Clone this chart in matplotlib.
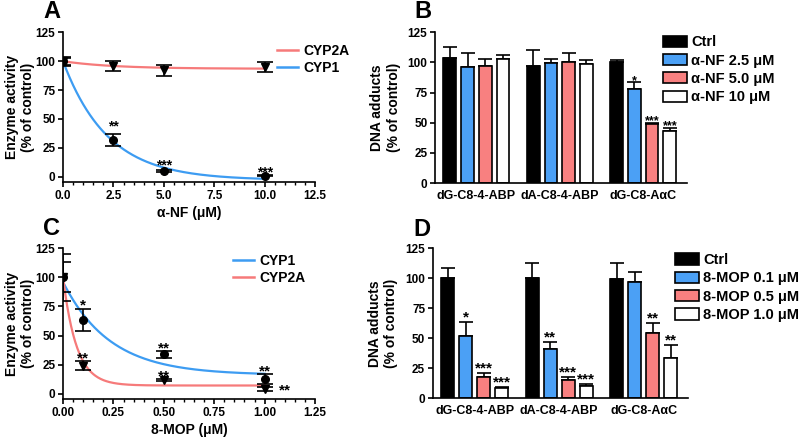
import numpy as np
import matplotlib.pyplot as plt
from matplotlib.ticker import MultipleLocator
from matplotlib.patches import Patch
from matplotlib.lines import Line2D

plt.rcParams['font.family'] = ['Liberation Sans', 'DejaVu Sans']
plt.rcParams['font.weight'] = 'bold'
plt.rcParams['axes.labelweight'] = 'bold'
plt.rcParams['axes.linewidth'] = 1.2

# colours
BLUE = '#4ba0f5'
RED = '#f88080'
LINE_BLUE = '#3d9cf2'
LINE_RED = '#f67a7a'

# ---------------- Panel A: enzyme activity vs alpha-NF ----------------
anf_conc = [0.0, 2.5, 5.0, 10.0]
a_cyp2a = [100, 96, 92, 95]
a_cyp2a_err = [4, 4.5, 5, 4.5]
a_cyp1 = [100, 32, 5, 1]
a_cyp1_err = [3, 5, 0.6, 0.6]
# one-phase decay fits (start, plateau, rate)
a_cyp2a_fit = (100, 93.5, 0.4)
a_cyp1_fit = (100, -3.0, 0.45)
a_stars = [(2.5, 40, '**'), (5.0, 6, '***'), (10.0, 0, '***')]

# ---------------- Panel C: enzyme activity vs 8-MOP ----------------
mop_conc = [0.0, 0.1, 0.5, 1.0]
c_cyp1 = [100, 63, 34, 12.5]
c_cyp1_err = [13, 9.5, 3, 4]
c_cyp2a = [100, 24, 11.5, 4]
c_cyp2a_err = [20, 4, 1, 2]
c_cyp1_fit = (96, 16, 4.3)
c_cyp2a_fit = (100, 7, 15)
c_stars = [(0.1, 72, '*'), (0.1, 27, '**'), (0.5, 35, '**'),
           (0.5, 11, '**'), (1.0, 15.5, '**'), (1.07, -0.5, '**')]

# ---------------- Panels B and D: DNA adducts ----------------
adducts = ['dG-C8-4-ABP', 'dA-C8-4-ABP', 'dG-C8-A\u03b1C']

b_labels = ['Ctrl', '\u03b1-NF 2.5 \u03bcM', '\u03b1-NF 5.0 \u03bcM', '\u03b1-NF 10 \u03bcM']
b_means = [[103.9, 96.7, 100.3],
           [95.9, 99.5, 77.6],
           [97.3, 100.3, 48.8],
           [102.5, 98.4, 43.0]]
b_errs = [[8.6, 13.6, 1.7],
          [11.6, 3.0, 6.1],
          [5.2, 7.2, 1.4],
          [3.5, 3.9, 3.0]]
b_stars = [['', '', ''], ['', '', '*'], ['', '', '***'], ['', '', '***']]

d_labels = ['Ctrl', '8-MOP 0.1 \u03bcM', '8-MOP 0.5 \u03bcM', '8-MOP 1.0 \u03bcM']
d_means = [[100.0, 100.0, 99.4],
           [52.2, 41.1, 96.7],
           [17.8, 15.0, 54.2],
           [8.3, 10.6, 33.9]]
d_errs = [[8.3, 13.0, 13.0],
          [11.7, 6.1, 8.9],
          [3.0, 2.5, 8.8],
          [1.4, 1.3, 10.5]]
d_stars = [['', '', ''], ['*', '**', ''], ['***', '***', '**'], ['***', '***', '**']]

bar_colors = ['black', BLUE, RED, 'white']


def decay(x, fit):
    y0, plateau, k = fit
    return plateau + (y0 - plateau) * np.exp(-k * x)


def style_axes(ax):
    ax.spines['top'].set_visible(False)
    ax.spines['right'].set_visible(False)
    ax.tick_params(axis='both', which='major', direction='out', length=3.5,
                   width=1.2, labelsize=8.5, pad=2)
    ax.tick_params(axis='both', which='minor', direction='out', length=2.2,
                   width=1.0)


def line_panel(ax, conc, series, fits, colors, markers, xmax, xmajor, xminor,
               stars, star_size, xlabel):
    xs = np.array(conc)
    for (mean, err), fit, col, mk in zip(series, fits, colors, markers):
        xfit = np.linspace(0, max(conc), 300)
        ax.plot(xfit, decay(xfit, fit), color=col, lw=1.6, zorder=2)
        ax.errorbar(xs, mean, yerr=err, fmt=mk, color='black', ms=5.5,
                    capsize=5.5, elinewidth=1.2, capthick=1.2, zorder=3)
    for x, y, s in stars:
        ha = 'left' if x > max(conc) else 'center'
        ax.text(x, y, s, ha=ha, va='baseline', fontsize=star_size)
    ax.set_xlim(0, xmax)
    ax.set_ylim(-4.6, 125)
    ax.xaxis.set_major_locator(MultipleLocator(xmajor))
    ax.xaxis.set_minor_locator(MultipleLocator(xminor))
    ax.yaxis.set_major_locator(MultipleLocator(25))
    ax.set_xlabel(xlabel, fontsize=10, labelpad=3)
    ax.set_ylabel('Enzyme activity\n(% of control)', fontsize=10,
                  linespacing=1.25)
    ax.yaxis.set_label_coords(-0.11, 0.5)
    style_axes(ax)


def bar_panel(ax, means, errs, stars, star_size, star_pad):
    group_step = 4.7
    for i, (m, e, s) in enumerate(zip(means, errs, stars)):
        xs = np.arange(len(adducts)) * group_step + i
        ax.bar(xs, m, width=0.72, color=bar_colors[i], edgecolor='black',
               linewidth=1.2, zorder=2)
        ax.errorbar(xs, m, yerr=[np.zeros(len(e)), e], fmt='none',
                    ecolor='black', elinewidth=1.2, capsize=5, capthick=1.2,
                    zorder=1)
        for x, top, err, txt in zip(xs, m, e, s):
            if txt:
                ax.text(x, top + err + star_pad, txt, ha='center',
                        va='baseline', fontsize=star_size)
    centers = np.arange(len(adducts)) * group_step + 1.5
    ax.set_xticks(centers)
    ax.set_xticklabels(adducts, fontsize=9)
    ax.set_xlim(-0.83, 2 * group_step + 3 + 0.97)
    ax.set_ylim(0, 125)
    ax.yaxis.set_major_locator(MultipleLocator(25))
    ax.set_ylabel('DNA adducts\n(% of control)', fontsize=10, linespacing=1.25)
    ax.yaxis.set_label_coords(-0.135, 0.5)
    style_axes(ax)
    ax.tick_params(axis='x', length=0, pad=5, labelsize=9)


fig = plt.figure(figsize=(8, 4.4), dpi=100)
axA = fig.add_axes([0.0788, 0.5864, 0.315, 0.340])
axB = fig.add_axes([0.5438, 0.584, 0.315, 0.3425])
axC = fig.add_axes([0.0788, 0.0932, 0.315, 0.3425])
axD = fig.add_axes([0.541, 0.0948, 0.319, 0.341])

# Panel A
line_panel(axA, anf_conc,
           [(a_cyp2a, a_cyp2a_err), (a_cyp1, a_cyp1_err)],
           [a_cyp2a_fit, a_cyp1_fit], [LINE_RED, LINE_BLUE], ['v', 'o'],
           12.5, 2.5, 0.5, a_stars, 10, '\u03b1-NF (\u03bcM)')
axA.xaxis.set_major_formatter(plt.FormatStrFormatter('%.1f'))
fig.legend(handles=[Line2D([], [], color=LINE_RED, lw=1.8, label='CYP2A'),
                    Line2D([], [], color=LINE_BLUE, lw=1.8, label='CYP1')],
           loc='upper left', bbox_to_anchor=(0.346, 0.9), frameon=False,
           fontsize=10, handlelength=1.5, handletextpad=0.4, labelspacing=0.2,
           borderpad=0, borderaxespad=0)

# Panel C
line_panel(axC, mop_conc,
           [(c_cyp1, c_cyp1_err), (c_cyp2a, c_cyp2a_err)],
           [c_cyp1_fit, c_cyp2a_fit], [LINE_BLUE, LINE_RED], ['o', 'v'],
           1.25, 0.25, 0.05, c_stars, 11, '8-MOP (\u03bcM)')
axC.xaxis.set_major_formatter(plt.FormatStrFormatter('%.2f'))
fig.legend(handles=[Line2D([], [], color=LINE_BLUE, lw=1.8, label='CYP1'),
                    Line2D([], [], color=LINE_RED, lw=1.8, label='CYP2A')],
           loc='upper left', bbox_to_anchor=(0.291, 0.423), frameon=False,
           fontsize=10, handlelength=1.5, handletextpad=0.4, labelspacing=0.2,
           borderpad=0, borderaxespad=0)

# Panels B and D
bar_panel(axB, b_means, b_errs, b_stars, 9, -1.5)
bar_panel(axD, d_means, d_errs, d_stars, 11, 0.5)

b_handles = [Patch(facecolor=c, edgecolor='black', linewidth=1.2, label=l)
             for c, l in zip(bar_colors, b_labels)]
fig.legend(handles=b_handles, loc='upper left', bbox_to_anchor=(0.829, 0.92),
           frameon=False, fontsize=10.5, handlelength=1.6, handleheight=0.8,
           handletextpad=0.3, labelspacing=0.3, borderpad=0, borderaxespad=0)
d_handles = [Patch(facecolor=c, edgecolor='black', linewidth=1.2, label=l)
             for c, l in zip(bar_colors, d_labels)]
fig.legend(handles=d_handles, loc='upper left', bbox_to_anchor=(0.844, 0.425),
           frameon=False, fontsize=10.5, handlelength=1.6, handleheight=0.8,
           handletextpad=0.3, labelspacing=0.3, borderpad=0, borderaxespad=0)

# panel letters
for x, y, letter in [(52, 12, 'A'), (423, 12, 'B'), (52, 228, 'C'), (422, 229, 'D')]:
    fig.text(x / 800, 1 - y / 440, letter, fontsize=17, fontweight='bold',
             ha='center', va='center')

fig.savefig('out.png', dpi=100)
